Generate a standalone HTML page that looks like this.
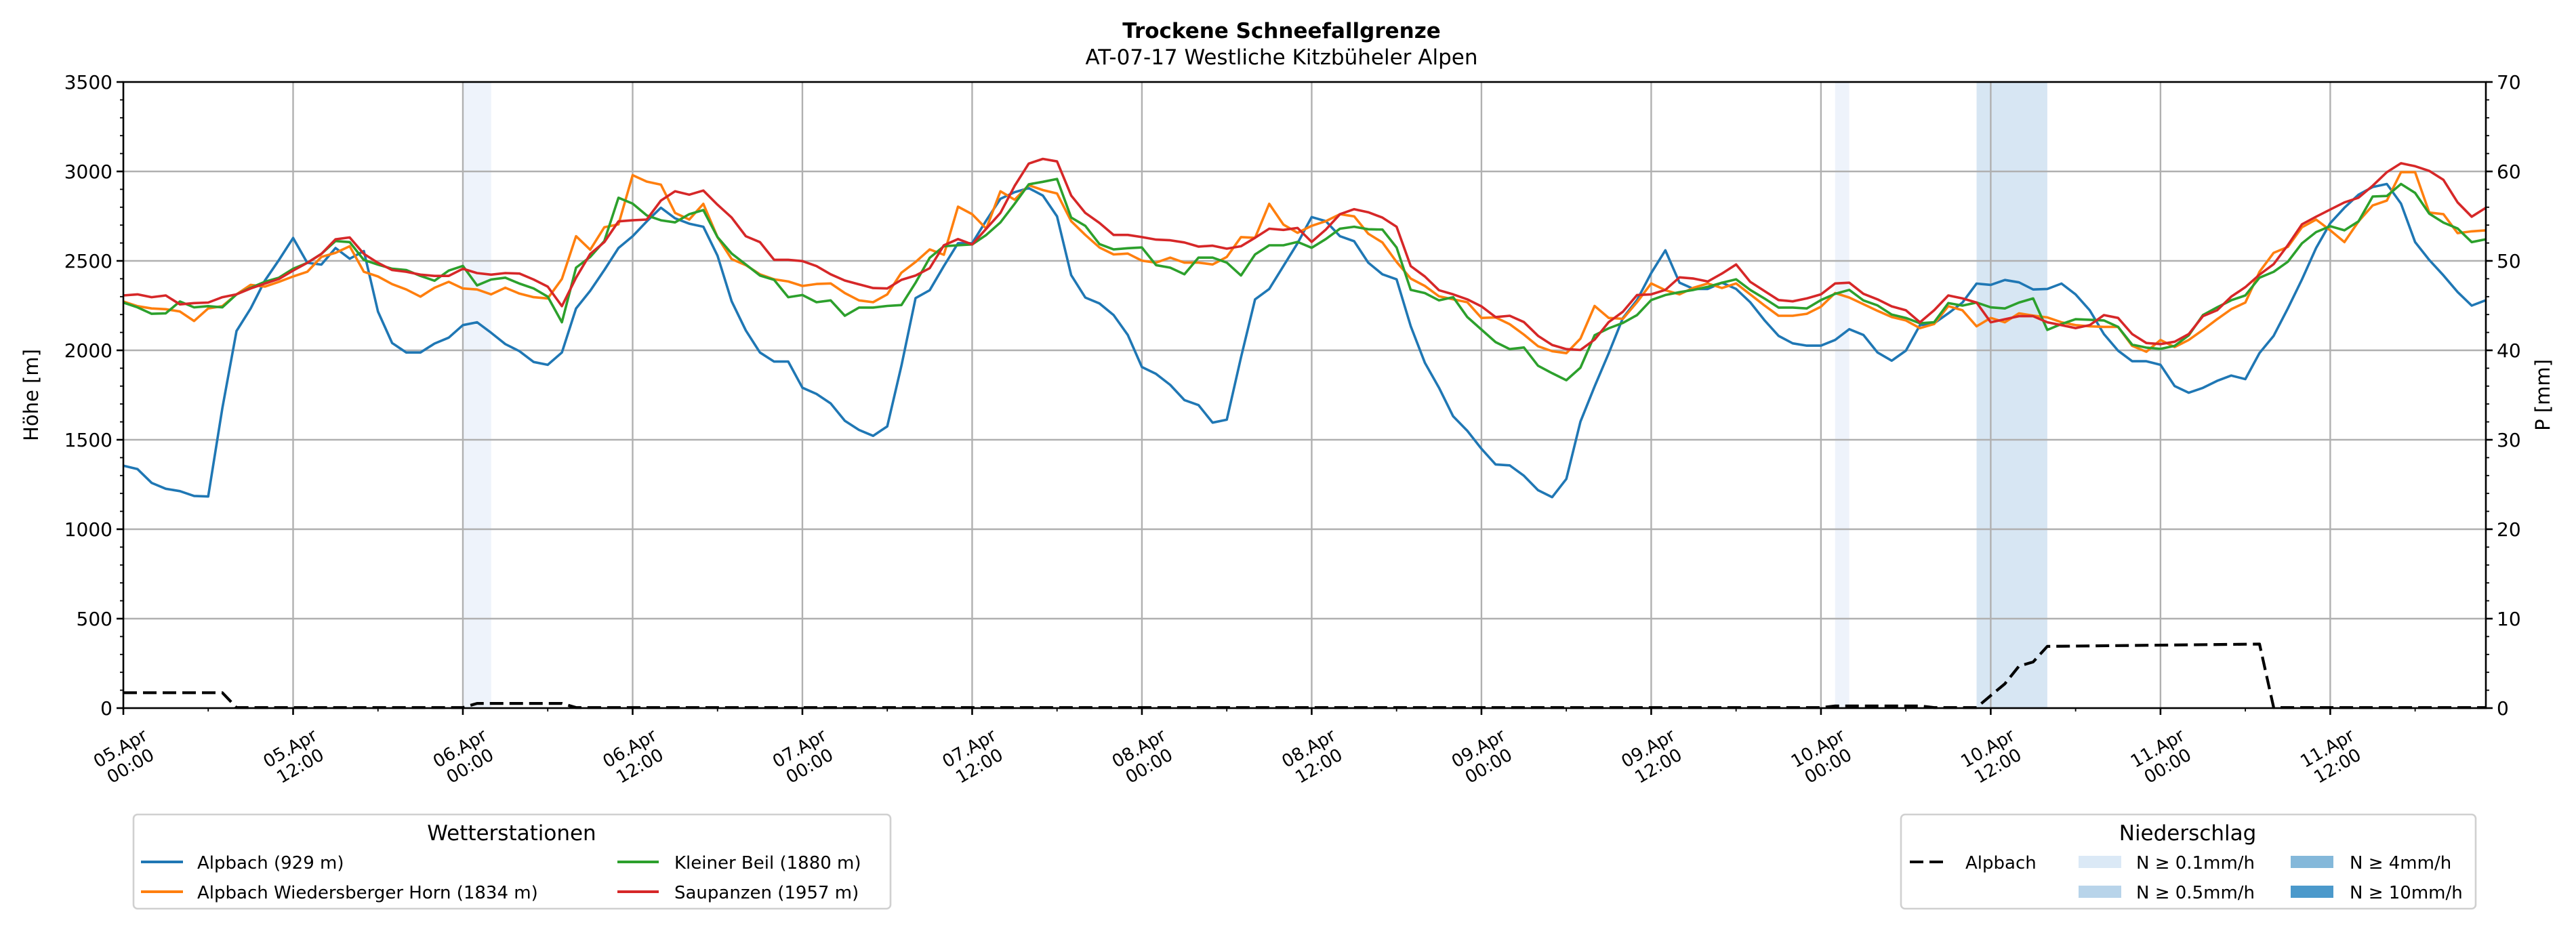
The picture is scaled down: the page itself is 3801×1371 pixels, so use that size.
<!DOCTYPE html>
<html><head><meta charset="utf-8"><style>
html,body{margin:0;padding:0;background:#fff}
svg{display:block}
text{font-family:"DejaVu Sans","Liberation Sans",sans-serif;fill:#000}
</style></head><body>
<svg id="s" width="3801" height="1371" viewBox="0 0 3801 1371" xmlns="http://www.w3.org/2000/svg">
<rect width="3801" height="1371" fill="#fff"/>
<g id="bg"></g>
<g id="grid" stroke="#b0b0b0" stroke-width="2.4"></g>
<g id="series" fill="none" stroke-linejoin="round"></g>
<g id="axes" stroke="#000" stroke-width="2.6"></g>
<g id="labels" font-size="28"></g>
<text x="1891" y="56" font-size="31" font-weight="bold" text-anchor="middle">Trockene Schneefallgrenze</text>
<text x="1891" y="95" font-size="31" text-anchor="middle">AT-07-17 Westliche Kitzbüheler Alpen</text>
<text transform="translate(56,583) rotate(-90)" font-size="29" text-anchor="middle">Höhe [m]</text>
<text transform="translate(3762,583) rotate(-90)" font-size="29" text-anchor="middle">P [mm]</text>
<rect x="197" y="1202" width="1117" height="139" rx="6" fill="#fff" stroke="#d0d0d0" stroke-width="2.6"/>
<text x="755" y="1240" font-size="31" text-anchor="middle">Wetterstationen</text>
<line x1="208" y1="1272" x2="270" y2="1272" stroke="#1f77b4" stroke-width="4"/>
<text x="291" y="1282" font-size="26">Alpbach (929 m)</text>
<line x1="208" y1="1316" x2="270" y2="1316" stroke="#ff7f0e" stroke-width="4"/>
<text x="291" y="1326" font-size="26">Alpbach Wiedersberger Horn (1834 m)</text>
<line x1="911" y1="1272" x2="972" y2="1272" stroke="#2ca02c" stroke-width="4"/>
<text x="995" y="1282" font-size="26">Kleiner Beil (1880 m)</text>
<line x1="911" y1="1316" x2="972" y2="1316" stroke="#d62728" stroke-width="4"/>
<text x="995" y="1326" font-size="26">Saupanzen (1957 m)</text>
<rect x="2805" y="1202" width="848" height="139" rx="6" fill="#fff" stroke="#d0d0d0" stroke-width="2.6"/>
<text x="3228" y="1240" font-size="31" text-anchor="middle">Niederschlag</text>
<line x1="2818" y1="1272" x2="2876" y2="1272" stroke="#000" stroke-width="4" stroke-dasharray="20 9"/>
<text x="2900" y="1282" font-size="26">Alpbach</text>
<rect x="3067" y="1263" width="63" height="18" fill="#dbe9f6"/>
<text x="3152" y="1282" font-size="26">N ≥ 0.1mm/h</text>
<rect x="3067" y="1307" width="63" height="18" fill="#b8d4ea"/>
<text x="3152" y="1326" font-size="26">N ≥ 0.5mm/h</text>
<rect x="3380" y="1263" width="63" height="18" fill="#84b8da"/>
<text x="3467" y="1282" font-size="26">N ≥ 4mm/h</text>
<rect x="3380" y="1307" width="63" height="18" fill="#4b99cb"/>
<text x="3467" y="1326" font-size="26">N ≥ 10mm/h</text>
</svg>
<script>
(function(){
var NS="http://www.w3.org/2000/svg";
var L=182,R=3668,T=121,B=1045,PH=(R-L)/167,PV=(B-T)/3500;
function X(h){return L+h*PH}
function Y(v){return B-v*PV}
function el(p,n,a){var e=document.createElementNS(NS,n);for(var k in a)e.setAttribute(k,a[k]);p.appendChild(e);return e}
var g=function(id){return document.getElementById(id)};
el(g('bg'),'rect',{x:X(24),y:T,width:X(26)-X(24),height:B-T,fill:'#eef3fb'});
el(g('bg'),'rect',{x:X(121),y:T,width:X(122)-X(121),height:B-T,fill:'#eef3fb'});
el(g('bg'),'rect',{x:X(131),y:T,width:X(136)-X(131),height:B-T,fill:'#d7e6f3'});
for(var v=500;v<3500;v+=500)el(g('grid'),'line',{x1:L,x2:R,y1:Y(v),y2:Y(v)});
for(var h=12;h<167;h+=12)el(g('grid'),'line',{x1:X(h),x2:X(h),y1:T,y2:B});
var blue=[1355,1336,1259,1226,1213,1186,1183,1677,2108,2234,2389,2505,2628,2489,2479,2572,2512,2555,2217,2041,1988,1988,2038,2071,2141,2157,2098,2035,1995,1935,1919,1988,2234,2333,2449,2572,2638,2721,2797,
2738,2708,2691,2529,2274,2111,1988,1937,1937,1791,1756,1703,1606,1555,1522,1575,1914,2292,2336,2471,2599,2599,2726,2847,2884,2907,2865,2749,2420,2295,2262,2197,2086,1907,1868,1807,1722,1694,1596,1612,1960,2285,2343,2471,2599,
2745,2722,2638,2610,2490,2425,2397,2135,1931,1791,1631,1550,1450,1362,1357,1299,1218,1179,1281,1601,1798,1984,2181,2281,2432,2559,2378,2343,2343,2378,2343,2269,2169,2081,2039,2026,2026,2058,2118,2086,1988,1942,
1998,2141,2151,2207,2267,2373,2366,2393,2380,2340,2343,2373,2313,2224,2091,1998,1939,1939,1919,1800,1763,1790,1829,1859,1839,1985,2081,2234,2396,2572,2711,2797,2870,2913,2930,2820,2605,2505,2419,2326,2250,2280];
var orange=[2273,2247,2234,2230,2217,2164,2234,2247,2313,2366,2356,2383,2413,2439,2522,2545,2582,2439,2413,2370,2340,2300,2350,2383,2346,2340,2313,2350,2317,2297,2290,2399,2638,2562,2688,2704,2979,2943,2926,
2768,2731,2819,2633,2510,2476,2425,2397,2385,2360,2371,2374,2320,2279,2269,2313,2434,2494,2564,2534,2803,2761,2680,2889,2842,2923,2896,2877,2722,2645,2575,2536,2541,2501,2490,2518,2490,2490,2480,2522,2633,2629,2819,2703,2657,
2696,2722,2761,2749,2652,2603,2494,2401,2360,2302,2285,2269,2181,2184,2146,2088,2023,1995,1984,2065,2248,2181,2176,2269,2374,2336,2313,2350,2374,2348,2374,2313,2251,2193,2193,2204,2244,2320,2295,2258,2221,2186,
2167,2124,2147,2247,2224,2134,2181,2157,2207,2194,2184,2157,2141,2134,2131,2131,2025,1992,2058,2018,2058,2114,2174,2230,2267,2439,2545,2578,2688,2731,2671,2605,2721,2810,2837,2996,2996,2770,2761,2655,2665,2671];
var green=[2267,2240,2204,2207,2273,2240,2247,2240,2313,2350,2383,2406,2456,2489,2539,2611,2605,2505,2479,2456,2449,2416,2389,2446,2472,2363,2396,2406,2373,2346,2300,2157,2462,2522,2611,2853,2820,2754,2727,
2715,2761,2784,2633,2541,2480,2418,2394,2297,2309,2269,2279,2193,2239,2239,2248,2253,2378,2517,2582,2587,2592,2645,2715,2819,2928,2942,2958,2742,2696,2594,2564,2571,2575,2476,2462,2425,2518,2518,2490,2418,2536,2587,2587,2606,
2573,2622,2680,2691,2677,2675,2575,2338,2320,2279,2297,2186,2116,2046,2007,2016,1914,1872,1833,1903,2084,2123,2153,2197,2281,2309,2325,2338,2355,2378,2397,2338,2290,2239,2239,2234,2281,2316,2338,2279,2251,2200,
2181,2151,2157,2264,2250,2267,2240,2234,2267,2290,2114,2147,2174,2171,2167,2131,2032,2015,2008,2025,2084,2197,2240,2280,2307,2406,2439,2495,2598,2661,2694,2671,2721,2860,2863,2930,2880,2764,2714,2681,2605,2621];
var red=[2307,2313,2297,2307,2257,2264,2267,2297,2313,2346,2373,2399,2446,2489,2539,2621,2631,2539,2489,2449,2439,2423,2416,2416,2456,2432,2423,2432,2429,2396,2356,2247,2406,2539,2605,2721,2727,2731,2837,
2889,2870,2893,2814,2742,2638,2605,2506,2506,2499,2471,2425,2390,2369,2348,2346,2394,2418,2459,2587,2622,2592,2680,2768,2919,3044,3070,3056,2865,2768,2712,2645,2645,2633,2619,2615,2603,2580,2585,2568,2582,2629,2680,2673,2684,
2606,2675,2761,2789,2772,2742,2691,2471,2413,2336,2313,2285,2246,2186,2193,2158,2081,2030,2007,2002,2060,2158,2216,2309,2313,2338,2408,2401,2385,2429,2480,2383,2332,2281,2274,2290,2313,2374,2378,2316,2285,2246,
2224,2157,2224,2307,2290,2267,2157,2174,2191,2191,2157,2141,2124,2141,2197,2181,2091,2041,2035,2048,2091,2191,2224,2300,2353,2423,2482,2588,2704,2747,2787,2827,2853,2920,2996,3046,3029,3003,2953,2827,2747,2797];
function poly(d,c){var p=[];for(var i=0;i<d.length;i++)p.push(X(i).toFixed(1)+','+Y(d[i]).toFixed(1));
el(g('series'),'polyline',{points:p.join(' '),stroke:c,'stroke-width':3.6});}
var pr=[[0,86],[7,86],[8,3],[24,3],[25,26],[31,26],[32,3],[120,3],[121,12],[127,12],[128,3],[131,3],[132,70],[133,136],[134,235],[135,258],[136,345],[151,358],[152,3],[167,3]];
el(g('series'),'polyline',{points:pr.map(function(q){return X(q[0]).toFixed(1)+','+Y(q[1]).toFixed(1)}).join(' '),stroke:'#000','stroke-width':4.2,'stroke-dasharray':'20 9'});
poly(blue,'#1f77b4');poly(orange,'#ff7f0e');poly(green,'#2ca02c');poly(red,'#d62728');
var a=g('axes');
el(a,'rect',{x:L,y:T,width:R-L,height:B-T,fill:'none'});
for(var v=0;v<=3500;v+=100){var mj=v%500==0;el(a,'line',{x1:L,x2:L-(mj?10:5),y1:Y(v),y2:Y(v),'stroke-width':mj?2.6:1.8});}
for(var m=0;m<=70;m+=2){var mj=m%10==0,y=B-m*(B-T)/70;el(a,'line',{x1:R,x2:R+(mj?10:5),y1:y,y2:y,'stroke-width':mj?2.6:1.8});}
for(var h=0;h<=167;h+=6){var mj=h%12==0;el(a,'line',{x1:X(h),x2:X(h),y1:B,y2:B+(mj?10:5),'stroke-width':mj?2.6:1.8});}
var lb=g('labels');
for(var v=0;v<=3500;v+=500){var t=el(lb,'text',{x:L-16,y:Y(v)+10,'text-anchor':'end'});t.textContent=v;}
for(var m=0;m<=70;m+=10){var t=el(lb,'text',{x:R+16,y:B-m*(B-T)/70+10});t.textContent=m;}
var days=['05','06','07','08','09','10','11'];
for(var i=0;i<14;i++){var h=i*12;var t=el(lb,'text',{transform:'translate('+X(h).toFixed(1)+',1112) rotate(-30)','text-anchor':'middle','font-size':'26'});
var s1=el(t,'tspan',{x:0,y:0});s1.textContent=days[Math.floor(i/2)]+'.Apr';
var s2=el(t,'tspan',{x:0,y:30});s2.textContent=(i%2?'12:00':'00:00');}
})();
</script>
</body></html>
